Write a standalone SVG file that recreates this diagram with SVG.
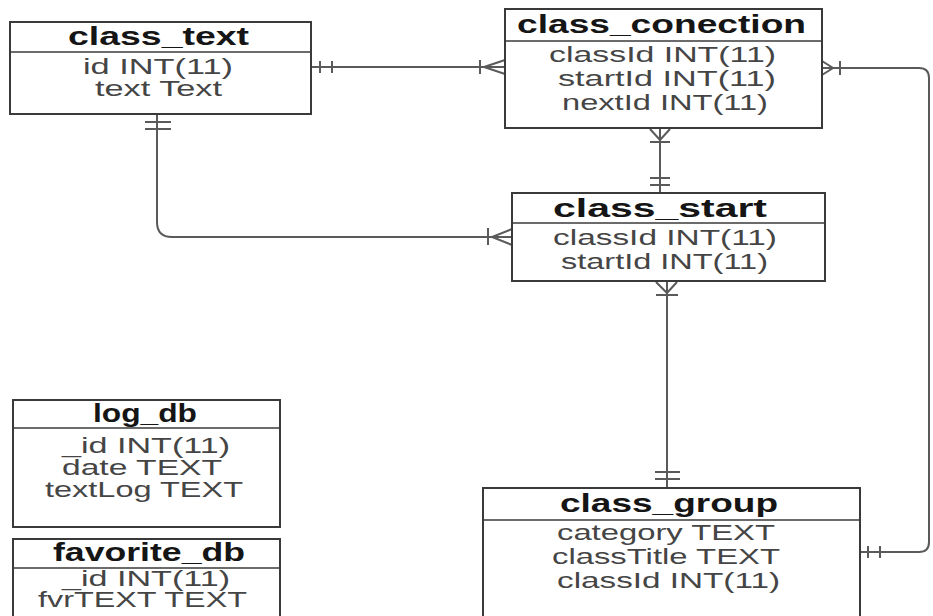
<svg xmlns="http://www.w3.org/2000/svg" width="933" height="616" viewBox="0 0 933 616">
  <style>
    .box { fill: #ffffff; stroke: #3a3a3a; stroke-width: 2; }
    .div { stroke: #3a3a3a; stroke-width: 1.6; }
    .title { font-family: "Liberation Sans", Arial, sans-serif; font-weight: bold; font-size: 26px; fill: #151515; text-anchor: middle; }
    .row { font-family: "Liberation Sans", Arial, sans-serif; font-size: 22px; fill: #454545; text-anchor: middle; }
    .conn { fill: none; stroke: #5a5a5a; stroke-width: 2; }
  </style>
  <rect width="933" height="616" fill="#ffffff"/>

  <g id="connectors">
    <!-- class_text to class_conection -->
    <path class="conn" d="M311,67 H505"/>
    <path class="conn" d="M320,61 V73 M332,61 V73"/>
    <path class="conn" d="M480,60 V74 M505,60 L484,67 L505,74"/>

    <!-- class_conection to class_group (right side loop) -->
    <path class="conn" d="M822,68 H919 Q929,68 929,78 V542 Q929,552 919,552 H860"/>
    <path class="conn" d="M822,61 L833,68 L822,75 M840,61 V75"/>
    <path class="conn" d="M868,546 V558 M880,546 V558"/>

    <!-- class_conection to class_start -->
    <path class="conn" d="M660,128 V193"/>
    <path class="conn" d="M650,129 L660,140 L670,129 M650,142 H670"/>
    <path class="conn" d="M650,178 H670 M650,185 H670"/>

    <!-- class_start to class_group -->
    <path class="conn" d="M667,281 V488"/>
    <path class="conn" d="M656,282 L667,293 L677,282 M656,295 H678"/>
    <path class="conn" d="M655,472 H680 M655,479 H680"/>

    <!-- class_text to class_start -->
    <path class="conn" d="M157,114 V222 Q157,237 172,237 H512"/>
    <path class="conn" d="M145,122 H171 M145,129 H171"/>
    <path class="conn" d="M488,228 V245 M512,229 L492,237 L512,245"/>
  </g>

  <g id="class_text">
    <rect class="box" x="10" y="22" width="301" height="92"/>
    <line class="div" x1="10" y1="52" x2="311" y2="52"/>
    <text class="title" x="158.5" y="45" textLength="181" lengthAdjust="spacingAndGlyphs">class_text</text>
    <text class="row" x="158" y="74" textLength="150" lengthAdjust="spacingAndGlyphs">id INT(11)</text>
    <text class="row" x="158.5" y="96" textLength="127" lengthAdjust="spacingAndGlyphs">text Text</text>
  </g>

  <g id="class_conection">
    <rect class="box" x="505" y="9" width="317" height="119"/>
    <line class="div" x1="505" y1="41" x2="822" y2="41"/>
    <text class="title" x="661.5" y="33" textLength="289" lengthAdjust="spacingAndGlyphs">class_conection</text>
    <text class="row" x="662.5" y="62" textLength="227" lengthAdjust="spacingAndGlyphs">classId INT(11)</text>
    <text class="row" x="667" y="86" textLength="218" lengthAdjust="spacingAndGlyphs">startId INT(11)</text>
    <text class="row" x="665" y="110" textLength="206" lengthAdjust="spacingAndGlyphs">nextId INT(11)</text>
  </g>

  <g id="class_start">
    <rect class="box" x="512" y="193" width="313" height="88"/>
    <line class="div" x1="512" y1="223" x2="825" y2="223"/>
    <text class="title" x="660" y="217" textLength="214" lengthAdjust="spacingAndGlyphs">class_start</text>
    <text class="row" x="665" y="245" textLength="224" lengthAdjust="spacingAndGlyphs">classId INT(11)</text>
    <text class="row" x="664.5" y="269" textLength="207" lengthAdjust="spacingAndGlyphs">startId INT(11)</text>
  </g>

  <g id="log_db">
    <rect class="box" x="13" y="400" width="267" height="127"/>
    <line class="div" x1="13" y1="428" x2="280" y2="428"/>
    <text class="title" x="145" y="422" textLength="104" lengthAdjust="spacingAndGlyphs">log_db</text>
    <text class="row" x="146" y="453" textLength="168" lengthAdjust="spacingAndGlyphs">_id INT(11)</text>
    <text class="row" x="142" y="475" textLength="160" lengthAdjust="spacingAndGlyphs">date TEXT</text>
    <text class="row" x="144" y="497" textLength="198" lengthAdjust="spacingAndGlyphs">textLog TEXT</text>
  </g>

  <g id="favorite_db">
    <rect class="box" x="13" y="539" width="267" height="100"/>
    <line class="div" x1="13" y1="568" x2="280" y2="568"/>
    <text class="title" x="149" y="561" textLength="192" lengthAdjust="spacingAndGlyphs">favorite_db</text>
    <text class="row" x="146" y="586" textLength="168" lengthAdjust="spacingAndGlyphs">_id INT(11)</text>
    <text class="row" x="142.5" y="607" textLength="209" lengthAdjust="spacingAndGlyphs">fvrTEXT TEXT</text>
  </g>

  <g id="class_group">
    <rect class="box" x="483" y="488" width="377" height="150"/>
    <line class="div" x1="483" y1="520" x2="860" y2="520"/>
    <text class="title" x="669" y="512" textLength="218" lengthAdjust="spacingAndGlyphs">class_group</text>
    <text class="row" x="666" y="540" textLength="218" lengthAdjust="spacingAndGlyphs">category TEXT</text>
    <text class="row" x="666" y="564" textLength="228" lengthAdjust="spacingAndGlyphs">classTitle TEXT</text>
    <text class="row" x="668.5" y="588" textLength="223" lengthAdjust="spacingAndGlyphs">classId INT(11)</text>
  </g>
</svg>
